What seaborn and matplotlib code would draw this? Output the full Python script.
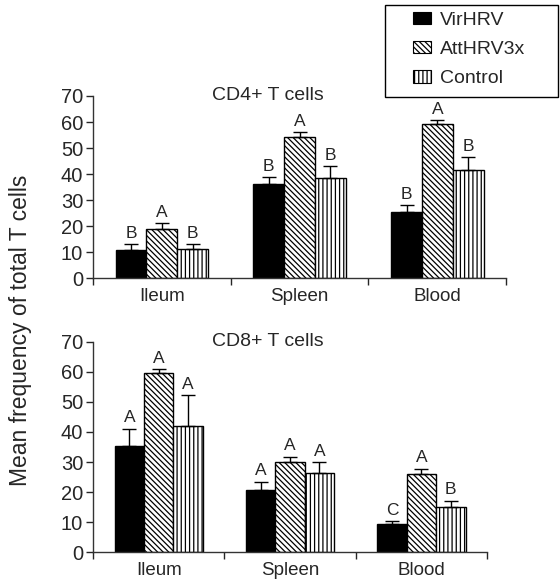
import numpy as np
import pandas as pd
import matplotlib
matplotlib.use("Agg")
import matplotlib.pyplot as plt
import matplotlib.transforms as mtransforms
import seaborn as sns
from matplotlib.patches import Patch, Rectangle

tissues = ["Ileum", "Spleen", "Blood"]
groups = ["VirHRV", "AttHRV3x", "Control"]

cd4_vir = [11.0, 36.3, 25.3]
cd4_att = [19.1, 54.1, 59.1]
cd4_ctl = [11.1, 38.5, 41.4]
cd4_err_vir = [2.0, 2.5, 2.7]
cd4_err_att = [2.2, 1.9, 1.7]
cd4_err_ctl = [2.0, 4.7, 5.0]
cd4_let_vir = ["B", "B", "B"]
cd4_let_att = ["A", "A", "A"]
cd4_let_ctl = ["B", "B", "B"]

cd8_vir = [35.4, 20.7, 9.3]
cd8_att = [59.6, 30.1, 26.0]
cd8_ctl = [42.0, 26.4, 14.9]
cd8_err_vir = [5.7, 2.7, 1.0]
cd8_err_att = [1.3, 1.7, 1.7]
cd8_err_ctl = [10.2, 3.5, 2.1]
cd8_let_vir = ["A", "A", "C"]
cd8_let_att = ["A", "A", "A"]
cd8_let_ctl = ["A", "A", "B"]

yticks = [0, 10, 20, 30, 40, 50, 60, 70]

sns.set_style("ticks")
plt.rcParams["font.family"] = ["Liberation Sans", "DejaVu Sans"]
plt.rcParams["hatch.linewidth"] = 0.9
plt.rcParams["hatch.color"] = "black"

colors = {"VirHRV": "black", "AttHRV3x": "white", "Control": "white"}
hatches = {"VirHRV": "", "AttHRV3x": "\\\\\\\\\\\\", "Control": "||||"}

fig = plt.figure(figsize=(5.6, 5.87), dpi=100)
ax1 = fig.add_axes([0.166, 0.526, 0.738, 0.3105])
ax2 = fig.add_axes([0.166, 0.0596, 0.704, 0.3578])


def panel(ax, vals, errs, lets, title):
    df = pd.DataFrame({
        "tissue": np.tile(tissues, 3),
        "group": np.repeat(groups, 3),
        "mean": np.concatenate(vals),
    })
    sns.barplot(data=df, x="tissue", y="mean", hue="group", order=tissues,
                hue_order=groups, palette=colors, width=0.67,
                edgecolor="black", linewidth=1.0, saturation=1,
                legend=False, ax=ax)
    for i, g in enumerate(groups):
        cont = ax.containers[i]
        xs = [p.get_x() + p.get_width() / 2 for p in cont]
        hs = [p.get_height() for p in cont]
        for p in cont:
            p.set_hatch(hatches[g])
        ax.errorbar(xs, hs, yerr=[np.zeros(3), errs[i]], fmt="none",
                    ecolor="black", elinewidth=1.0, capsize=5, capthick=1.0,
                    zorder=1)
        for x, h, e, l in zip(xs, hs, errs[i], lets[i]):
            ax.text(x, h + e + 1.2, l, ha="center", va="bottom", fontsize=12.5)
    ax.set_ylim(0, 70)
    ax.set_xlim(-0.5, 2.5)
    ax.set_yticks(yticks)
    ax.set_xlabel("")
    ax.set_ylabel("")
    ax.set_xticks([0, 1, 2])
    ax.set_xticklabels(tissues)
    ax.set_xticks([-0.5, 0.5, 1.5, 2.5], minor=True)
    ax.tick_params(axis="x", which="major", length=0, labelsize=13.5, pad=7)
    ax.tick_params(axis="x", which="minor", length=5, width=1, direction="out")
    ax.tick_params(axis="y", length=5, width=1, direction="out", labelsize=14.5, pad=2)
    for s in ["top", "right"]:
        ax.spines[s].set_visible(False)
    for s in ["left", "bottom"]:
        ax.spines[s].set_linewidth(1.0)
        ax.spines[s].set_color("#333333")
    tr = mtransforms.blended_transform_factory(fig.transFigure, ax.transData)
    fig.text(0.479, 70, title, ha="center", va="center", fontsize=14, transform=tr)


panel(ax1, [cd4_vir, cd4_att, cd4_ctl], [cd4_err_vir, cd4_err_att, cd4_err_ctl],
      [cd4_let_vir, cd4_let_att, cd4_let_ctl], "CD4+ T cells")
panel(ax2, [cd8_vir, cd8_att, cd8_ctl], [cd8_err_vir, cd8_err_att, cd8_err_ctl],
      [cd8_let_vir, cd8_let_att, cd8_let_ctl], "CD8+ T cells")

fig.text(0.036, 0.438, "Mean frequency of total T cells", rotation=90,
         ha="center", va="center", fontsize=16.5)

handles = [Patch(facecolor=colors[g], edgecolor="black", hatch=hatches[g], linewidth=0.8)
           for g in groups]
leg = fig.legend(handles, groups, loc="upper left", bbox_to_anchor=(413 / 560, 1 - 12 / 587),
                 frameon=False, fontsize=14, handlelength=0.95,
                 handleheight=0.6, handletextpad=0.45, borderpad=0,
                 labelspacing=0.62, borderaxespad=0)
fig.patches.append(Rectangle((385 / 560, 1 - 97 / 587), 173 / 560, 92 / 587,
                             transform=fig.transFigure, fill=False,
                             edgecolor="black", linewidth=1.0))
fig.savefig("out.png", dpi=100)
